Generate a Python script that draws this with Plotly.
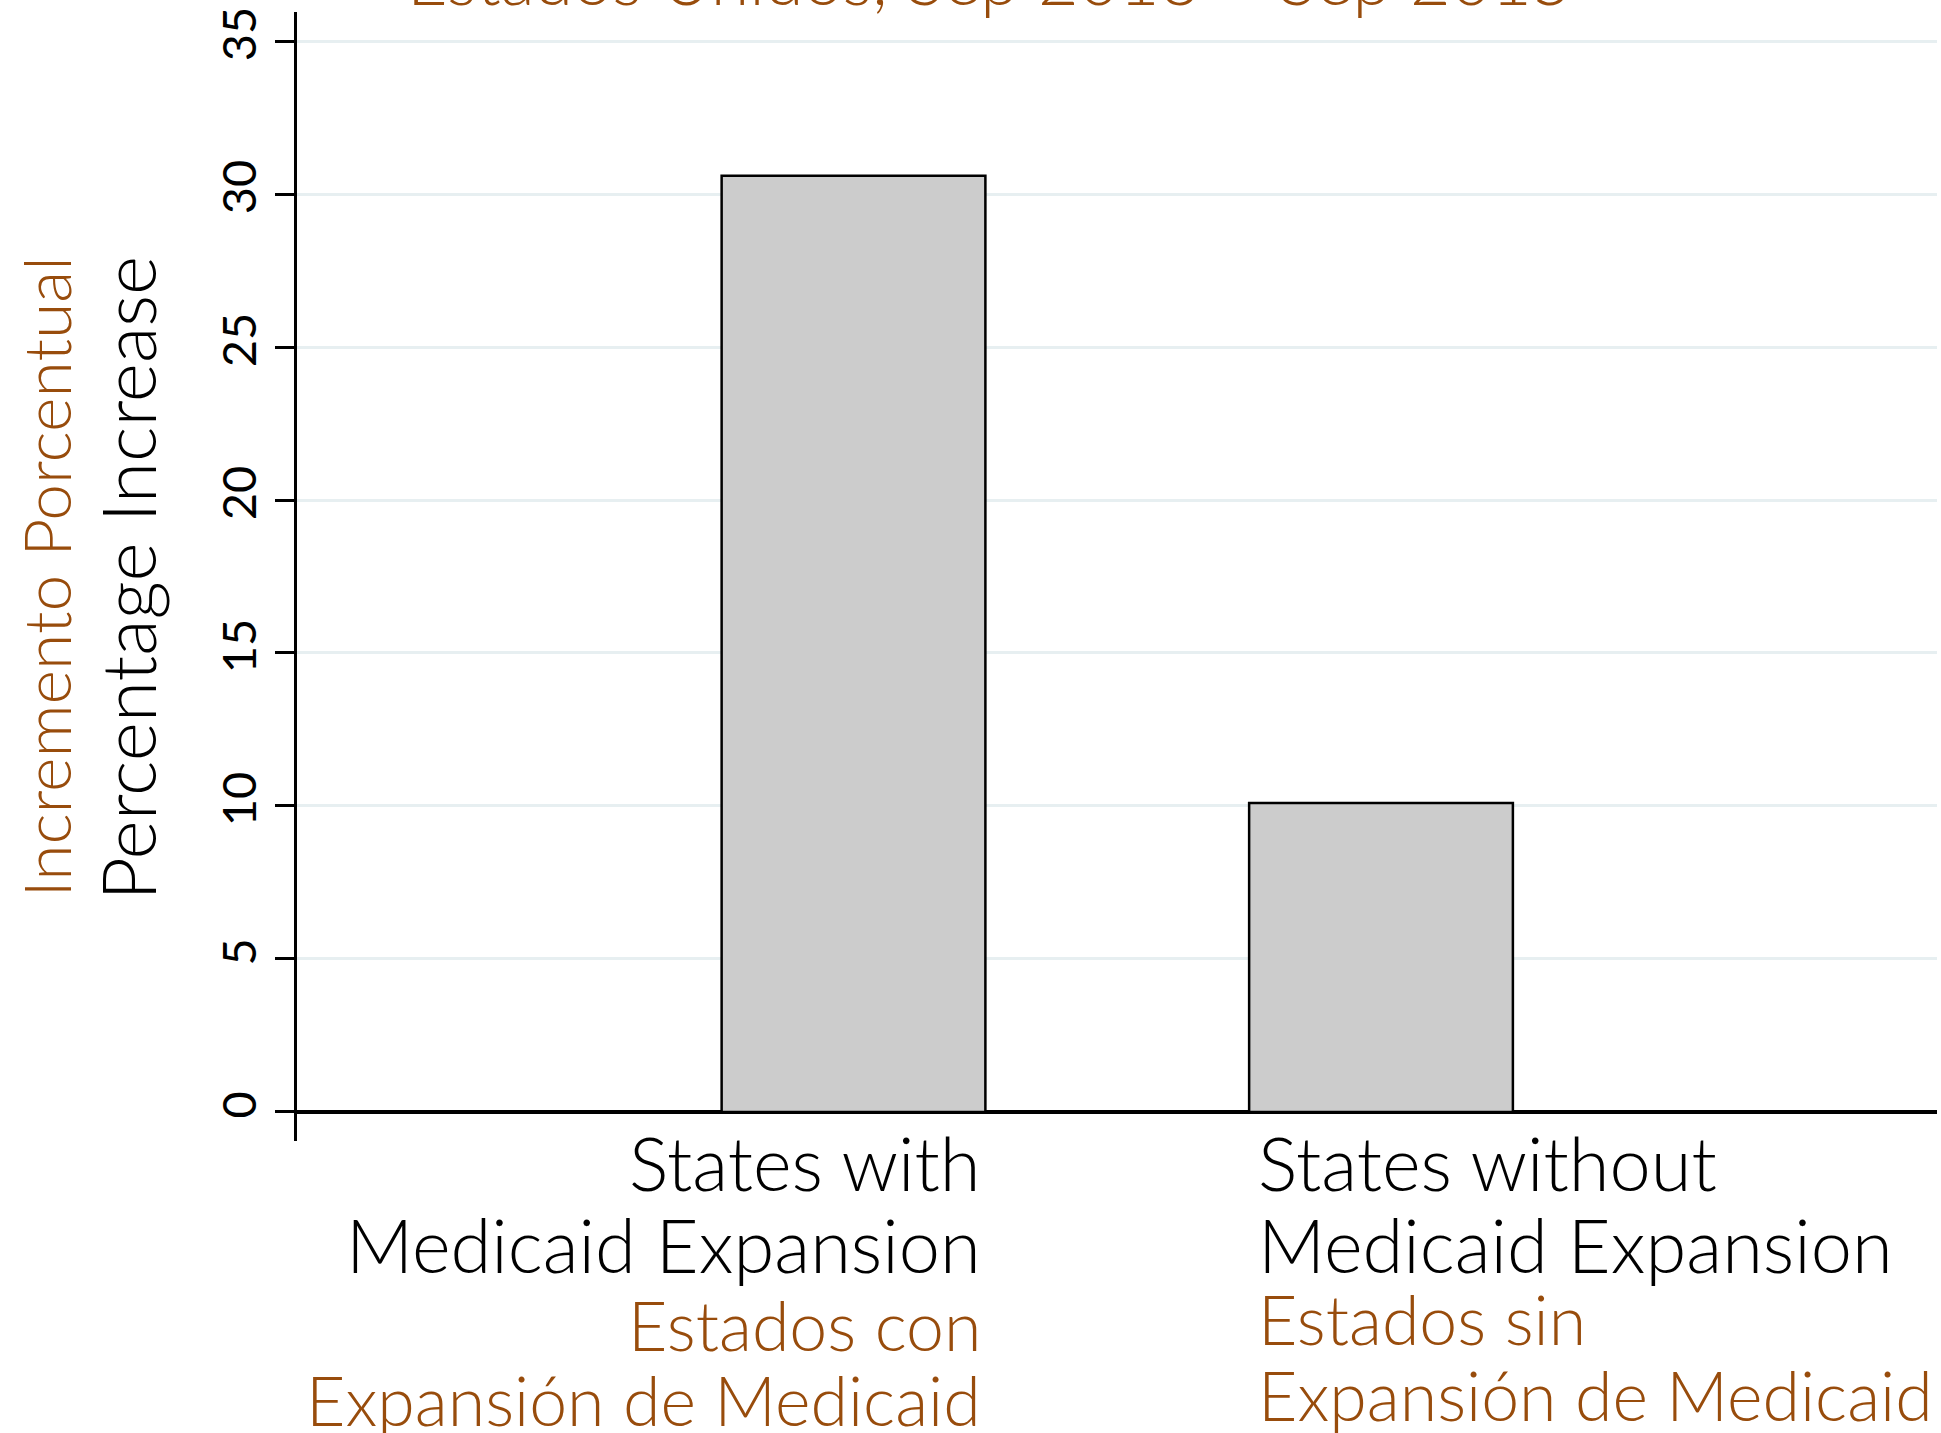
import plotly.graph_objects as go

# ---- data ----
categories = ["States with Medicaid Expansion", "States without Medicaid Expansion"]
values = [30.6, 10.1]
label_en = [["States with", "Medicaid Expansion"], ["States without", "Medicaid Expansion"]]
label_es = [["Estados con", "Expansión de Medicaid"], ["Estados sin", "Expansión de Medicaid"]]
ytitle_en = "Percentage Increase"
ytitle_es = "Incremento Porcentual"
title_es = "Estados Unidos, Sep 2013 – Sep 2015"
yticks = [0, 5, 10, 15, 20, 25, 30, 35]

# ---- style / layout ----
W, H = 1941, 1433
L, R, T, B = 297, 4, 12, 292
BROWN = "#984c0c"
FONT = "Lato"
pw, ph = W - L - R, H - T - B

def px(x):
    return (x - L) / pw

def py(y):
    return (H - B - y) / ph

fig = go.Figure()
fig.add_trace(go.Bar(
    x=[0, 1], y=values, width=0.5,
    marker=dict(color="#cccccc", line=dict(color="black", width=2.5)),
    hoverinfo="skip", showlegend=False,
))

ann = []
# category labels (one annotation per line)
black_c = [1162, 1244]
brown_c = [[1324, 1399], [1319, 1394]]
for i in range(2):
    if i == 0:
        xa, xan = px(983), "right"
    else:
        xa, xan = px(1256), "left"
    for j, t in enumerate(label_en[i]):
        ann.append(dict(text=t, x=xa, y=py(black_c[j]), xref="paper", yref="paper",
                        xanchor=xan, yanchor="middle", showarrow=False,
                        font=dict(family=FONT, size=74, color="black", weight=300)))
    for j, t in enumerate(label_es[i]):
        ann.append(dict(text=t, x=xa, y=py(brown_c[i][j]), xref="paper", yref="paper",
                        xanchor=xan, yanchor="middle", showarrow=False,
                        font=dict(family=FONT, size=68, color=BROWN, weight=300)))

# y titles
ann.append(dict(text=ytitle_en, textangle=-90, x=px(127), y=py(903), xref="paper", yref="paper",
                xanchor="center", yanchor="bottom", showarrow=False,
                font=dict(family=FONT, size=75, color="black", weight=300)))
ann.append(dict(text=ytitle_es, textangle=-90, x=px(45), y=py(900), xref="paper", yref="paper",
                xanchor="center", yanchor="bottom", showarrow=False,
                font=dict(family=FONT, size=66, color=BROWN, weight=300)))
# title (clipped at top of page)
ann.append(dict(text=title_es, x=px(990), y=py(22), xref="paper", yref="paper",
                xanchor="center", yanchor="bottom", showarrow=False,
                font=dict(family=FONT, size=70, color=BROWN, weight=300)))

fig.update_layout(
    width=W, height=H,
    margin=dict(l=L, r=R, t=T, b=B, pad=0, autoexpand=False),
    paper_bgcolor="white", plot_bgcolor="white",
    annotations=ann,
    xaxis=dict(range=[-1.055, 2.054], showticklabels=False, showgrid=False,
               zeroline=False, showline=False, ticks="", automargin=False),
    yaxis=dict(range=[-0.95, 35.95], tickvals=yticks, ticktext=[str(v) for v in yticks],
               tickangle=-90, ticks="outside", ticklen=19, tickwidth=2.5, tickcolor="black",
               showline=True, linecolor="black", linewidth=2.5, automargin=False,
               ticklabeloverflow="allow",
               showgrid=True, gridcolor="#e7eff1", gridwidth=3,
               zeroline=True, zerolinecolor="black", zerolinewidth=3.5,
               tickfont=dict(family=FONT, size=47, color="black", weight=400)),
)

fig.write_html("out.html", config={"displayModeBar": False},
               post_script="document.body.style.margin='0px';")
